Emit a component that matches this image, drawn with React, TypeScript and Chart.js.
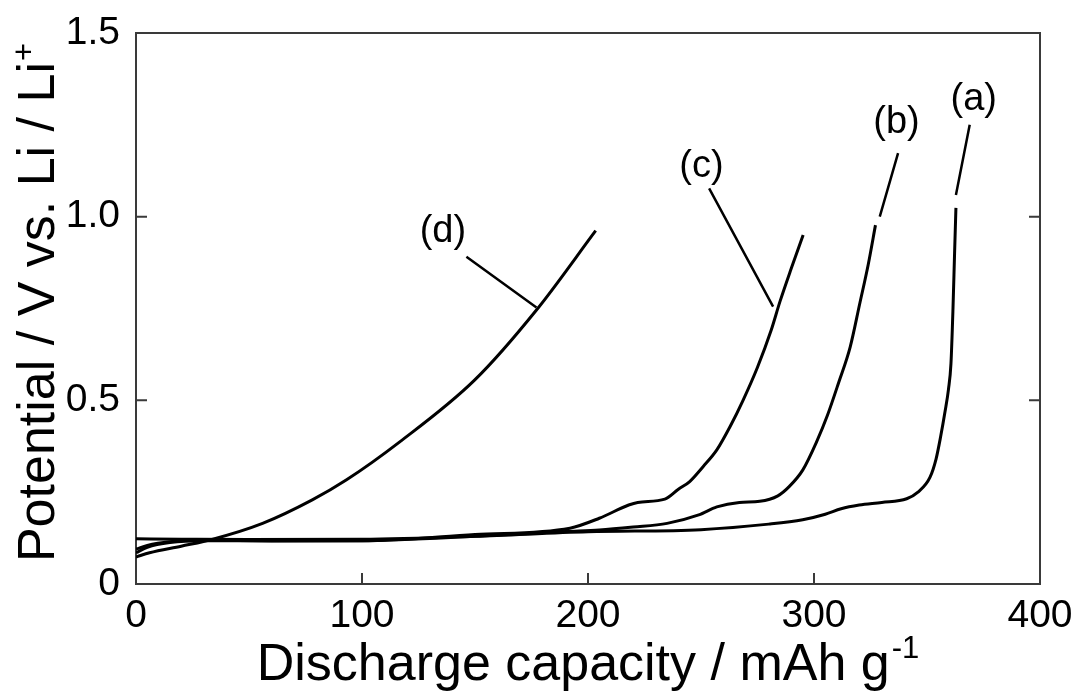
import React, { useEffect, useRef } from "react";
import { Chart, registerables } from "chart.js";

Chart.register(...registerables);

// ---- data ----
const xTicks = [0, 100, 200, 300, 400];
const yTicks = [0, 0.5, 1.0, 1.5];
const seriesNames = ["(a)", "(b)", "(c)", "(d)"];

const capA = [0, 20, 50, 100, 150, 200, 250, 280, 295, 305, 312, 320, 330, 341, 346, 351.3, 354, 356, 358, 359.5, 360.6, 361.5, 362.2, 362.8];
const potA = [0.123, 0.122, 0.121, 0.122, 0.13, 0.142, 0.148, 0.163, 0.175, 0.19, 0.205, 0.215, 0.222, 0.232, 0.25, 0.29, 0.34, 0.4, 0.47, 0.53, 0.6, 0.75, 0.9, 1.024];

const capB = [0, 5, 15, 30, 60, 100, 150, 190, 205, 220, 235, 249, 257, 267, 276, 284, 289, 295, 301, 306, 311, 316, 320.3, 324, 327.2];
const potB = [0.085, 0.1, 0.113, 0.118, 0.117, 0.118, 0.13, 0.143, 0.147, 0.155, 0.165, 0.188, 0.21, 0.222, 0.225, 0.24, 0.265, 0.31, 0.385, 0.46, 0.55, 0.645, 0.765, 0.87, 0.977];

const capC = [0, 5, 15, 30, 60, 100, 150, 192, 205, 218, 222, 234, 240, 245, 251, 257, 263, 268.6, 275, 281, 285, 290, 295.2];
const potC = [0.095, 0.105, 0.115, 0.119, 0.118, 0.118, 0.135, 0.152, 0.179, 0.215, 0.222, 0.231, 0.258, 0.279, 0.32, 0.365, 0.43, 0.5, 0.59, 0.69, 0.77, 0.86, 0.95];

const capD = [0, 6, 20, 34, 56, 78, 93, 116.7, 149.8, 177.2, 203.4];
const potD = [0.0735, 0.085, 0.103, 0.122, 0.165, 0.229, 0.283, 0.387, 0.555, 0.746, 0.962];

// label annotations in data units: text position, leader start, leader end
const labelText = [370.7, 336.5, 250.2, 135.8];
const labelTextV = [1.318, 1.255, 1.136, 0.959];
const leaderX1 = [362.8, 329.1, 281.9, 177.2];
const leaderY1 = [1.059, 1.0, 0.755, 0.753];
const leaderX2 = [368.9, 337.2, 253.6, 146.2];
const leaderY2 = [1.25, 1.173, 1.077, 0.891];

const FONT = "'Liberation Sans', Arial, Helvetica, sans-serif";

const toPoints = (xs: number[], ys: number[]) => xs.map((x, i) => ({ x, y: ys[i] }));

export default function App() {
  const ref = useRef<HTMLCanvasElement | null>(null);

  useEffect(() => {
    document.body.style.margin = "0";
    const canvas = ref.current;
    if (!canvas) return;

    const framePlugin = {
      id: "frameAndText",
      beforeDatasetsDraw(chart: any) {
        const { ctx, chartArea } = chart;
        const { left, right, top, bottom } = chartArea;
        const xs = chart.scales.x;
        const ys = chart.scales.y;
        ctx.save();
        ctx.strokeStyle = "#3a3a3a";
        ctx.lineWidth = 2;
        ctx.strokeRect(left, top, right - left, bottom - top);
        const tl = 11;
        ctx.beginPath();
        xTicks.forEach((v) => {
          if (v > xs.min && v < xs.max) {
            const px = xs.getPixelForValue(v);
            ctx.moveTo(px, bottom);
            ctx.lineTo(px, bottom - tl);
          }
        });
        yTicks.forEach((v) => {
          if (v > ys.min && v < ys.max) {
            const py = ys.getPixelForValue(v);
            ctx.moveTo(left, py);
            ctx.lineTo(left + tl, py);
            ctx.moveTo(right, py);
            ctx.lineTo(right - tl, py);
          }
        });
        ctx.stroke();
        ctx.restore();
      },
      afterDraw(chart: any) {
        const { ctx, chartArea } = chart;
        const { left, right, top, bottom } = chartArea;
        const xs = chart.scales.x;
        const ys = chart.scales.y;
        ctx.save();
        // annotations
        ctx.strokeStyle = "#000";
        ctx.lineWidth = 2.5;
        ctx.beginPath();
        seriesNames.forEach((_, i) => {
          ctx.moveTo(xs.getPixelForValue(leaderX1[i]), ys.getPixelForValue(leaderY1[i]));
          ctx.lineTo(xs.getPixelForValue(leaderX2[i]), ys.getPixelForValue(leaderY2[i]));
        });
        ctx.stroke();
        ctx.fillStyle = "#000";
        ctx.font = `38px ${FONT}`;
        ctx.textAlign = "center";
        ctx.textBaseline = "middle";
        seriesNames.forEach((name, i) => {
          ctx.fillText(name, xs.getPixelForValue(labelText[i]), ys.getPixelForValue(labelTextV[i]));
        });

        // x title
        const mainFont = `52px ${FONT}`;
        const supFont = `31px ${FONT}`;
        ctx.textAlign = "left";
        ctx.textBaseline = "alphabetic";
        const xMain = "Discharge capacity / mAh g";
        const xSup = "-1";
        ctx.font = mainFont;
        const w1 = ctx.measureText(xMain).width;
        ctx.font = supFont;
        const w2 = ctx.measureText(xSup).width;
        const sx = (left + right) / 2 - (w1 + w2 + 2) / 2;
        const by = bottom + 96;
        ctx.font = mainFont;
        ctx.fillText(xMain, sx, by);
        ctx.font = supFont;
        ctx.fillText(xSup, sx + w1 + 2, by - 22);

        // y title
        const yMain = "Potential / V vs. Li / Li";
        const ySup = "+";
        ctx.font = mainFont;
        const v1 = ctx.measureText(yMain).width;
        ctx.font = supFont;
        const v2 = ctx.measureText(ySup).width;
        ctx.translate(54, (top + bottom) / 2 - 6);
        ctx.rotate(-Math.PI / 2);
        const s0 = -(v1 + v2 + 1) / 2;
        ctx.font = mainFont;
        ctx.fillText(yMain, s0, 0);
        ctx.font = supFont;
        ctx.fillText(ySup, s0 + v1 + 1, -20);
        ctx.restore();
      },
    };

    const mk = (xs: number[], ys: number[], label: string) => ({
      label,
      data: toPoints(xs, ys),
      borderColor: "#000",
      backgroundColor: "#000",
      borderWidth: 3,
      pointRadius: 0,
      fill: false,
      cubicInterpolationMode: "monotone" as const,
    });

    const chart = new Chart(canvas, {
      type: "line",
      data: {
        datasets: [
          mk(capA, potA, seriesNames[0]),
          mk(capB, potB, seriesNames[1]),
          mk(capC, potC, seriesNames[2]),
          mk(capD, potD, seriesNames[3]),
        ],
      },
      options: {
        animation: false,
        responsive: false,
        maintainAspectRatio: false,
        parsing: true,
        layout: { padding: { top: 33, right: 45, left: 0, bottom: 0 } },
        plugins: { legend: { display: false }, tooltip: { enabled: false } },
        scales: {
          x: {
            type: "linear",
            min: 0,
            max: 400,
            afterBuildTicks: (s: any) => {
              s.ticks = xTicks.map((v) => ({ value: v }));
            },
            afterFit: (s: any) => {
              s.height = 108;
            },
            grid: { display: false },
            border: { display: false },
            ticks: {
              padding: 1,
              color: "#000",
              font: { size: 39, family: FONT },
              maxRotation: 0,
              callback: (v: any) => String(v),
            },
          },
          y: {
            type: "linear",
            min: 0,
            max: 1.5,
            afterBuildTicks: (s: any) => {
              s.ticks = yTicks.map((v) => ({ value: v }));
            },
            afterFit: (s: any) => {
              s.width = 136;
            },
            grid: { display: false },
            border: { display: false },
            ticks: {
              padding: 8,
              color: "#000",
              font: { size: 39, family: FONT },
              callback: (v: any) => (Number(v) === 0 ? "0" : Number(v).toFixed(1)),
            },
          },
        },
      },
      plugins: [framePlugin],
    });

    return () => chart.destroy();
  }, []);

  return (
    <div style={{ position: "absolute", left: 0, top: 0, width: 1085, height: 692, background: "#fff" }}>
      <canvas ref={ref} width={1085} height={692} style={{ width: 1085, height: 692, display: "block" }} />
    </div>
  );
}
